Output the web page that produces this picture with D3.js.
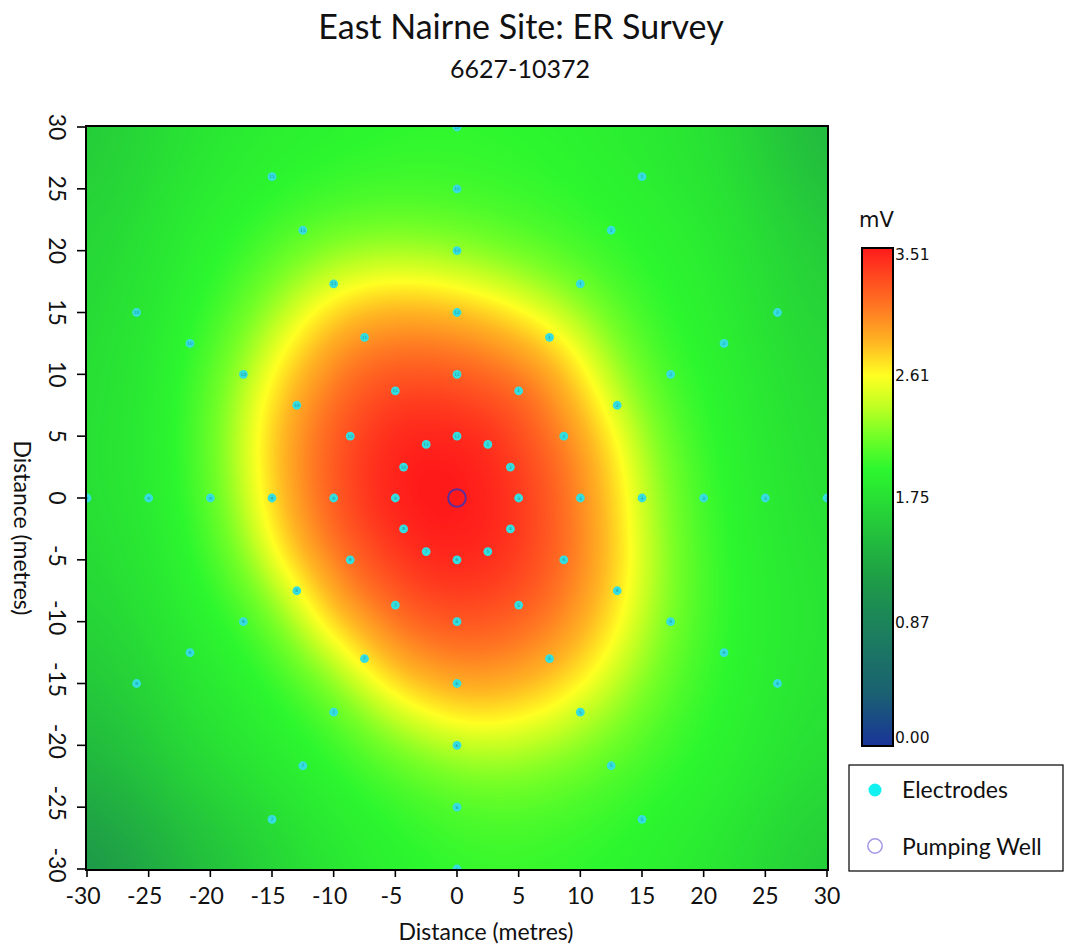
<!DOCTYPE html>
<html>
<head>
<meta charset="utf-8">
<script src="https://cdn.jsdelivr.net/npm/d3@7"></script>
<style>
  body { margin: 0; background: #ffffff; }
  svg { display: block; }
</style>
</head>
<body>
<svg id="chart" width="1066" height="946"></svg>
<script>
// ---- Data -------------------------------------------------------------

// Regional (background) potential, mV, every 10 m
const bgGridX = [-30, -20, -10, 0, 10, 20, 30];
const bgGridY = [30, 20, 10, 0, -10, -20, -30];
const backgroundGrid = [
  [1.60, 1.80, 1.90, 1.94, 1.90, 1.76, 1.45],
  [1.68, 1.86, 1.94, 1.95, 1.93, 1.84, 1.60],
  [1.73, 1.88, 1.94, 1.95, 1.94, 1.88, 1.70],
  [1.74, 1.88, 1.94, 1.95, 1.95, 1.90, 1.75],
  [1.65, 1.85, 1.93, 1.95, 1.95, 1.91, 1.79],
  [1.45, 1.73, 1.90, 1.95, 1.95, 1.89, 1.74],
  [1.15, 1.50, 1.80, 1.94, 1.93, 1.82, 1.60]
];

// Anomaly around the pumping well: centre (m) and trace of the 2.61 mV contour
const anomalyCentre = [-1.5, 0.5];
const contourX = [13.8, 13.3, 11.7, 8.4, 4.5, 1.0, -3.0, -7.0, -10.6, -13.6, -15.9, -16.3, -16.0,
                  -14.9, -12.8, -10.8, -8.3, -5.8, -2.4, 1.5, 5.5, 9.0, 11.7, 13.2, 13.9, 14.0];
const contourY = [-1.0, 3.0, 7.6, 13.1, 15.4, 16.6, 17.3, 17.2, 16.0, 12.8, 7.6, 3.5, 0.0,
                  -4.0, -7.5, -10.5, -12.9, -15.3, -17.2, -18.2, -17.6, -16.0, -13.2, -10.0, -6.5, -3.5];

// Excess potential (mV above background) against relative distance from the
// centre (1 = on the 2.61 mV contour), in steps of 0.1
const profileStep = 0.1;
const profileExcess = [1.57, 1.56, 1.53, 1.49, 1.43, 1.35, 1.25, 1.13, 0.99, 0.84, 0.67,
                       0.47, 0.32, 0.21, 0.13, 0.08, 0.05, 0.03, 0.02, 0.01, 0.00];

// Colour ramp (mV -> colour)
const rampValues  = [0.00, 0.36, 0.87, 1.15, 1.45, 1.75, 1.95, 2.20, 2.40, 2.61, 2.85, 3.10, 3.30, 3.51];
const rampColours = ["#1a3499", "#1a5f72", "#1c845a", "#1e9a48", "#22bb3e", "#28e034", "#2cf72e",
                     "#78ff26", "#c2ff22", "#ffff22", "#ffb422", "#ff7622", "#ff4a20", "#ff1a1a"];
const colourbarTicks = [3.51, 2.61, 1.75, 0.87, 0.00];
const colourbarMax = 3.51;

// Axis ticks (metres)
const axisTicks = [-30, -25, -20, -15, -10, -5, 0, 5, 10, 15, 20, 25, 30];

// Electrode array: concentric rings, one electrode per clock-hour spoke
const ringRadii = [5, 10, 15, 20, 25, 30];
const clockHours = [1, 2, 3, 4, 5, 6, 7, 8, 9, 10, 11, 12];
const wellPosition = [0, 0];

// ---- Layout -----------------------------------------------------------
const svg = d3.select("#chart");
const frame = { left: 86, right: 828, top: 126, bottom: 870 };
const x = d3.scaleLinear().domain([-30, 30]).range([87, 827]);
const y = d3.scaleLinear().domain([-30, 30]).range([869, 127]);

const colour = d3.scaleLinear().domain(rampValues).range(rampColours)
  .interpolate(d3.interpolateRgb).clamp(true);

// ---- Surface ----------------------------------------------------------
function cr(p0, p1, p2, p3, t) {
  return p1 + 0.5 * t * (p2 - p0 + t * (2 * p0 - 5 * p1 + 4 * p2 - p3 + t * (3 * (p1 - p2) + p3 - p0)));
}

// bicubic background
const bi = d3.scaleLinear().domain([bgGridX[0], bgGridX[bgGridX.length - 1]]).range([0, bgGridX.length - 1]);
const bj = d3.scaleLinear().domain([bgGridY[0], bgGridY[bgGridY.length - 1]]).range([0, bgGridY.length - 1]);
const nI = bgGridX.length, nJ = bgGridY.length;
function cell(j, i) {
  j = Math.max(0, Math.min(nJ - 1, j));
  i = Math.max(0, Math.min(nI - 1, i));
  return backgroundGrid[j][i];
}
function background(xv, yv) {
  const fi = bi(xv), fj = bj(yv);
  let i = Math.min(Math.floor(fi), nI - 2), j = Math.min(Math.floor(fj), nJ - 2);
  const tx = fi - i, ty = fj - j;
  const r = [];
  for (let m = -1; m <= 2; m++) {
    r.push(cr(cell(j + m, i - 1), cell(j + m, i), cell(j + m, i + 1), cell(j + m, i + 2), tx));
  }
  return cr(r[0], r[1], r[2], r[3], ty);
}

// contour radius as a function of bearing from the centre (1-degree table)
const [cx0, cy0] = anomalyCentre;
const polar = contourX.map((cxv, k) => {
  const dx = cxv - cx0, dy = contourY[k] - cy0;
  return { a: (Math.atan2(dy, dx) * 180 / Math.PI + 360) % 360, r: Math.hypot(dx, dy) };
}).sort((p, q) => p.a - q.a);
const rawR = d3.range(360).map(deg => {
  const n = polar.length;
  let k = polar.findIndex(p => p.a > deg);
  if (k < 0) k = 0;
  const p1 = polar[k], p0 = polar[(k - 1 + n) % n];
  let a0 = p0.a, a1 = p1.a, d = deg;
  if (a1 < a0) a1 += 360;
  if (d < a0) d += 360;
  const t = (d - a0) / (a1 - a0);
  return p0.r + (p1.r - p0.r) * t;
});
const radiusTable = d3.range(360).map(deg => d3.mean(d3.range(-8, 9), o => rawR[(deg + o + 360) % 360]));
function contourRadius(angleDeg) {
  const a = (angleDeg + 360) % 360;
  const k = Math.floor(a), t = a - k;
  return radiusTable[k % 360] * (1 - t) + radiusTable[(k + 1) % 360] * t;
}
function excess(s) {
  const f = s / profileStep, n = profileExcess.length;
  if (f >= n - 1) return profileExcess[n - 1];
  const k = Math.floor(f), t = f - k;
  const g = idx => profileExcess[Math.max(0, Math.min(n - 1, idx))];
  return Math.max(0, cr(g(k - 1), g(k), g(k + 1), g(k + 2), t));
}

// colour lookup table
const lutSize = 1024;
const lut = d3.range(lutSize).map(k => d3.rgb(colour(k / (lutSize - 1) * colourbarMax)));

const cw = frame.right - frame.left, ch = frame.bottom - frame.top;
const canvas = document.createElement("canvas");
canvas.width = cw; canvas.height = ch;
const ctx = canvas.getContext("2d");
const img = ctx.createImageData(cw, ch);
for (let py = 0; py < ch; py++) {
  const yv = Math.max(-30, Math.min(30, y.invert(frame.top + py + 0.5)));
  for (let px = 0; px < cw; px++) {
    const xv = Math.max(-30, Math.min(30, x.invert(frame.left + px + 0.5)));
    const dx = xv - cx0, dy = yv - cy0;
    const s = Math.hypot(dx, dy) / contourRadius(Math.atan2(dy, dx) * 180 / Math.PI);
    const v = Math.min(colourbarMax, background(xv, yv) + excess(s));
    const c = lut[Math.max(0, Math.min(lutSize - 1, Math.round(v / colourbarMax * (lutSize - 1))))];
    const k = (py * cw + px) * 4;
    img.data[k] = c.r; img.data[k + 1] = c.g; img.data[k + 2] = c.b; img.data[k + 3] = 255;
  }
}
ctx.putImageData(img, 0, 0);

svg.append("image")
  .attr("x", frame.left).attr("y", frame.top)
  .attr("width", cw).attr("height", ch)
  .attr("preserveAspectRatio", "none")
  .attr("href", canvas.toDataURL());

// ---- Electrodes and well ----------------------------------------------
svg.append("clipPath").attr("id", "plotClip")
  .append("rect").attr("x", frame.left).attr("y", frame.top).attr("width", cw).attr("height", ch);

const electrodes = [];
ringRadii.forEach(r => clockHours.forEach(h => {
  const a = (h % 12) * Math.PI / 6;
  electrodes.push({ ex: r * Math.sin(a), ey: r * Math.cos(a), hour: h });
}));

const eg = svg.append("g").attr("clip-path", "url(#plotClip)");
const el = eg.selectAll("g.electrode").data(electrodes).join("g")
  .attr("class", "electrode")
  .attr("transform", d => `translate(${x(d.ex)},${y(d.ey)})`);
el.append("circle").attr("r", 4.4).attr("fill", "#35dede");
el.append("text").text(d => d.hour)
  .attr("text-anchor", "middle").attr("dominant-baseline", "central")
  .attr("font-family", "DejaVu Sans").attr("font-size", 4.5)
  .attr("fill", "#1f8f9c");

eg.append("circle")
  .attr("cx", x(wellPosition[0])).attr("cy", y(wellPosition[1]))
  .attr("r", 8.8).attr("fill", "none")
  .attr("stroke", "#5c2f98").attr("stroke-width", 2);

// ---- Frame and axes ---------------------------------------------------
svg.append("rect")
  .attr("x", frame.left).attr("y", frame.top).attr("width", cw).attr("height", ch)
  .attr("fill", "none").attr("stroke", "#000").attr("stroke-width", 2);

const font = "Lato, 'Open Sans', sans-serif";

const xAxis = svg.append("g");
xAxis.selectAll("line").data(axisTicks).join("line")
  .attr("x1", d => x(d)).attr("x2", d => x(d))
  .attr("y1", frame.bottom).attr("y2", frame.bottom + 7)
  .attr("stroke", "#000").attr("stroke-width", 1.6);
xAxis.selectAll("text").data(axisTicks).join("text")
  .attr("x", d => x(d)).attr("y", 904)
  .attr("dx", d => d < 0 ? -4 : 0)
  .attr("text-anchor", "middle")
  .attr("font-family", font).attr("font-size", 23).attr("fill", "#111")
  .text(d => d);

const yAxis = svg.append("g");
yAxis.selectAll("line").data(axisTicks).join("line")
  .attr("x1", frame.left - 9).attr("x2", frame.left)
  .attr("y1", d => y(d)).attr("y2", d => y(d))
  .attr("stroke", "#000").attr("stroke-width", 1.6);
yAxis.selectAll("text").data(axisTicks).join("text")
  .attr("transform", d => `translate(58,${y(d)}) rotate(90)`)
  .attr("dx", d => d < 0 ? -4 : 0)
  .attr("text-anchor", "middle").attr("dominant-baseline", "central")
  .attr("font-family", font).attr("font-size", 23).attr("fill", "#111")
  .text(d => d);

svg.append("text")
  .attr("x", 486).attr("y", 940)
  .attr("text-anchor", "middle")
  .attr("font-family", font).attr("font-size", 23).attr("fill", "#111")
  .text("Distance (metres)");
svg.append("text")
  .attr("transform", "translate(14,528) rotate(90)")
  .attr("text-anchor", "middle")
  .attr("font-family", font).attr("font-size", 23).attr("fill", "#111")
  .text("Distance (metres)");

// ---- Titles -----------------------------------------------------------
svg.append("text")
  .attr("x", 521).attr("y", 39)
  .attr("text-anchor", "middle")
  .attr("font-family", font).attr("font-size", 34).attr("fill", "#111")
  .text("East Nairne Site: ER Survey");
svg.append("text")
  .attr("x", 520).attr("y", 78)
  .attr("text-anchor", "middle")
  .attr("font-family", font).attr("font-size", 25).attr("fill", "#111")
  .text("6627-10372");

// ---- Colour bar -------------------------------------------------------
const cb = { x: 862, y: 248, w: 31, h: 498 };
const cbScale = d3.scaleLinear().domain([0, colourbarMax]).range([cb.y + cb.h, cb.y]);
const grad = svg.append("defs").append("linearGradient")
  .attr("id", "cbGrad").attr("x1", 0).attr("y1", 1).attr("x2", 0).attr("y2", 0);
grad.selectAll("stop").data(rampValues).join("stop")
  .attr("offset", d => d / colourbarMax)
  .attr("stop-color", d => colour(d));
svg.append("rect")
  .attr("x", cb.x).attr("y", cb.y).attr("width", cb.w).attr("height", cb.h)
  .attr("fill", "url(#cbGrad)").attr("stroke", "#000").attr("stroke-width", 2);
svg.selectAll("text.cbtick").data(colourbarTicks).join("text")
  .attr("class", "cbtick")
  .attr("x", cb.x + cb.w + 2)
  .attr("y", d => Math.max(cb.y + 7, Math.min(cb.y + cb.h - 8, cbScale(d))))
  .attr("dominant-baseline", "central")
  .attr("font-family", "DejaVu Sans").attr("font-size", 15.5).attr("fill", "#111")
  .text(d => d.toFixed(2));
svg.append("text")
  .attr("x", 859).attr("y", 227)
  .attr("font-family", "DejaVu Sans").attr("font-size", 21).attr("fill", "#111")
  .text("mV");

// ---- Legend -----------------------------------------------------------
const lg = svg.append("g");
lg.append("rect").attr("x", 849).attr("y", 765).attr("width", 214).attr("height", 106)
  .attr("fill", "#fff").attr("stroke", "#000").attr("stroke-width", 1.2);
lg.append("circle").attr("cx", 875).attr("cy", 790).attr("r", 6.5).attr("fill", "#12f0f0");
lg.append("text").attr("x", 902).attr("y", 798)
  .attr("font-family", font).attr("font-size", 23).attr("fill", "#111").text("Electrodes");
lg.append("circle").attr("cx", 875).attr("cy", 846).attr("r", 7.2)
  .attr("fill", "none").attr("stroke", "#a596e6").attr("stroke-width", 1.5);
lg.append("text").attr("x", 902).attr("y", 855)
  .attr("font-family", font).attr("font-size", 23).attr("fill", "#111").text("Pumping Well");
</script>
</body>
</html>
